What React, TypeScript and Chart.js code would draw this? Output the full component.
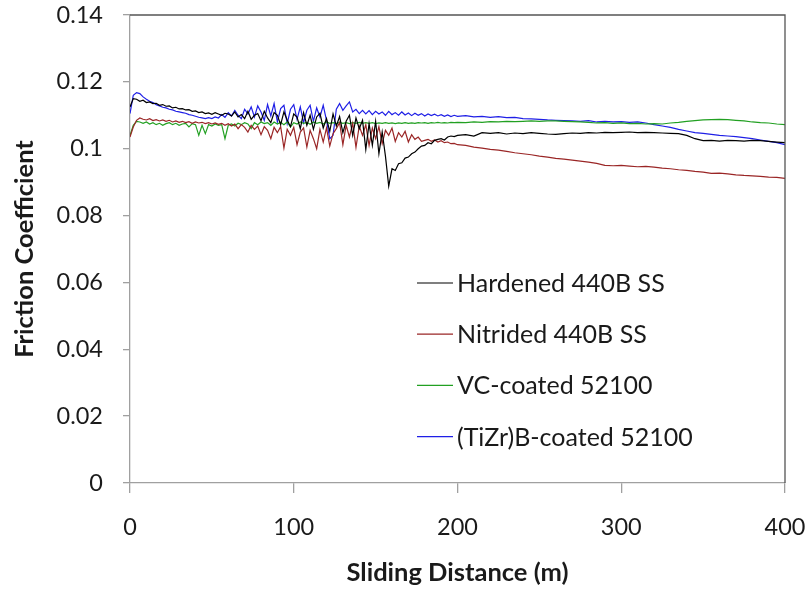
import React, { useEffect, useRef } from "react";
import { Chart, registerables } from "chart.js";

Chart.register(...registerables);

const distance = [
  0, 2, 4, 6, 8, 10, 12, 14, 16, 18, 20, 22, 24, 26, 28, 30, 32, 34, 36, 38,
  40, 42, 44, 46, 48, 50, 52, 54, 56, 58, 60, 62, 64, 66, 68, 70, 72, 74, 76, 78,
  80, 82, 84, 86, 88, 90, 92, 94, 96, 98, 100, 102, 104, 106, 108, 110, 112, 114, 116, 118,
  120, 122, 124, 126, 128, 130, 132, 134, 136, 138, 140, 142, 144, 146, 148, 150, 152, 154, 156, 158,
  160, 162, 164, 166, 168, 170, 172, 174, 176, 178, 180, 182, 184, 186, 188, 190, 192, 194, 196, 198,
  200, 205, 210, 215, 220, 225, 230, 235, 240, 245, 250, 255, 260, 265, 270, 275, 280, 285, 290, 295,
  300, 305, 310, 315, 320, 325, 330, 335, 340, 345, 350, 355, 360, 365, 370, 375, 380, 385, 390, 395, 400,
];

const hardened440B = [
  0.1125, 0.1150, 0.1148, 0.1142, 0.1145, 0.1138, 0.1140, 0.1135, 0.1136, 0.1130,
  0.1132, 0.1127, 0.1128, 0.1122, 0.1124, 0.1119, 0.1120, 0.1116, 0.1117, 0.1112,
  0.1113, 0.1108, 0.1110, 0.1105, 0.1107, 0.1103, 0.1108, 0.1104, 0.1100, 0.1106,
  0.1104, 0.1098, 0.1110, 0.1095, 0.1102, 0.1090, 0.1112, 0.1088, 0.1100, 0.1105,
  0.1084, 0.1112, 0.1092, 0.1078, 0.1108, 0.1100, 0.1072, 0.1110, 0.1086, 0.1066,
  0.1104, 0.1095, 0.1060, 0.1108, 0.1070, 0.1100, 0.1058, 0.1095, 0.1106, 0.1062,
  0.1090, 0.1052, 0.1104, 0.1068, 0.1096, 0.1048, 0.1082, 0.1100, 0.1040, 0.1092,
  0.1060, 0.1085, 0.0998, 0.1075, 0.1010, 0.1082, 0.0985, 0.1050, 0.0978, 0.0888,
  0.0940, 0.0935, 0.0955, 0.0958, 0.0972, 0.0975, 0.0985, 0.0990, 0.1000, 0.1008,
  0.1010, 0.1018, 0.1015, 0.1025, 0.1028, 0.1030, 0.1026, 0.1035, 0.1038, 0.1036,
  0.1040, 0.1042, 0.1038, 0.1048, 0.1046, 0.1048, 0.1044, 0.1047, 0.1045, 0.1048,
  0.1046, 0.1044, 0.1043, 0.1045, 0.1047, 0.1046, 0.1048, 0.1047, 0.1049, 0.1048,
  0.1049, 0.1050, 0.1048, 0.1049, 0.1048, 0.1047, 0.1046, 0.1045, 0.1040, 0.1030,
  0.1024, 0.1025, 0.1023, 0.1025, 0.1024, 0.1023, 0.1025, 0.1024, 0.1022, 0.1020, 0.1018,
];

const nitrided440B = [
  0.1035, 0.1065, 0.1085, 0.1092, 0.1088, 0.1086, 0.1090, 0.1084, 0.1087, 0.1083,
  0.1086, 0.1082, 0.1085, 0.1080, 0.1083, 0.1079, 0.1082, 0.1078, 0.1081, 0.1076,
  0.1080, 0.1077, 0.1079, 0.1075, 0.1078, 0.1074, 0.1077, 0.1073, 0.1076, 0.1070,
  0.1075, 0.1068, 0.1074, 0.1060, 0.1072, 0.1064, 0.1050, 0.1070, 0.1058, 0.1068,
  0.1042, 0.1066, 0.1055, 0.1030, 0.1064, 0.1048, 0.1066, 0.1002, 0.1058, 0.1040,
  0.1064, 0.1012, 0.1050, 0.1062, 0.1005, 0.1055, 0.1030, 0.1000, 0.1058, 0.1020,
  0.1062, 0.1008, 0.1045, 0.1060, 0.1078, 0.1012, 0.1070, 0.1035, 0.1076, 0.1004,
  0.1068, 0.1040, 0.1072, 0.1010, 0.1062, 0.1030, 0.1066, 0.1015, 0.1055, 0.1040,
  0.1062, 0.1022, 0.1048, 0.1035, 0.1052, 0.1020, 0.1042, 0.1028, 0.1035, 0.1022,
  0.1025, 0.1028, 0.1022, 0.1026, 0.1020, 0.1024, 0.1018, 0.1020, 0.1015, 0.1016,
  0.1012, 0.1010, 0.1005, 0.1002, 0.0998, 0.0996, 0.0992, 0.0988, 0.0985, 0.0982,
  0.0978, 0.0975, 0.0971, 0.0969, 0.0966, 0.0963, 0.0960, 0.0956, 0.0950, 0.0949,
  0.0950, 0.0948, 0.0946, 0.0947, 0.0945, 0.0942, 0.0940, 0.0937, 0.0935, 0.0932,
  0.0930, 0.0926, 0.0927, 0.0925, 0.0922, 0.0920, 0.0919, 0.0917, 0.0915, 0.0914, 0.0911,
];

const vcCoated52100 = [
  0.1040, 0.1070, 0.1082, 0.1080, 0.1076, 0.1080, 0.1074, 0.1078, 0.1072, 0.1076,
  0.1070, 0.1075, 0.1078, 0.1072, 0.1076, 0.1070, 0.1074, 0.1076, 0.1065, 0.1075,
  0.1072, 0.1040, 0.1070, 0.1045, 0.1072, 0.1068, 0.1074, 0.1070, 0.1072, 0.1030,
  0.1070, 0.1074, 0.1068, 0.1076, 0.1072, 0.1078, 0.1074, 0.1060, 0.1078, 0.1072,
  0.1080, 0.1075, 0.1078, 0.1070, 0.1080, 0.1074, 0.1079, 0.1072, 0.1080, 0.1065,
  0.1078, 0.1074, 0.1080, 0.1076, 0.1079, 0.1073, 0.1080, 0.1076, 0.1079, 0.1074,
  0.1080, 0.1076, 0.1078, 0.1075, 0.1079, 0.1076, 0.1078, 0.1075, 0.1078, 0.1076,
  0.1079, 0.1076, 0.1078, 0.1076, 0.1078, 0.1075, 0.1077, 0.1076, 0.1078, 0.1076,
  0.1077, 0.1075, 0.1077, 0.1076, 0.1078, 0.1076, 0.1077, 0.1076, 0.1078, 0.1077,
  0.1078, 0.1076, 0.1078, 0.1077, 0.1079, 0.1077, 0.1078, 0.1077, 0.1079, 0.1078,
  0.1079, 0.1078, 0.1080, 0.1079, 0.1081, 0.1080, 0.1082, 0.1081, 0.1082, 0.1083,
  0.1082, 0.1083, 0.1083, 0.1082, 0.1081, 0.1080, 0.1079, 0.1077, 0.1078, 0.1076,
  0.1077, 0.1075, 0.1076, 0.1074, 0.1075, 0.1074, 0.1077, 0.1079, 0.1082, 0.1084,
  0.1086, 0.1087, 0.1088, 0.1087, 0.1085, 0.1083, 0.1080, 0.1078, 0.1077, 0.1074, 0.1072,
];

const tizrbCoated52100 = [
  0.1105, 0.1160, 0.1168, 0.1165, 0.1155, 0.1148, 0.1142, 0.1138, 0.1132, 0.1128,
  0.1124, 0.1122, 0.1118, 0.1116, 0.1112, 0.1110, 0.1108, 0.1106, 0.1102, 0.1100,
  0.1097, 0.1094, 0.1092, 0.1090, 0.1093, 0.1090, 0.1095, 0.1092, 0.1102, 0.1094,
  0.1108, 0.1098, 0.1115, 0.1100, 0.1090, 0.1118, 0.1104, 0.1125, 0.1095, 0.1128,
  0.1110, 0.1085, 0.1132, 0.1098, 0.1135, 0.1080, 0.1120, 0.1130, 0.1075, 0.1118,
  0.1132, 0.1088, 0.1125, 0.1078, 0.1115, 0.1130, 0.1082, 0.1122, 0.1095, 0.1130,
  0.1085, 0.1030, 0.1040, 0.1118, 0.1135, 0.1115, 0.1128, 0.1140, 0.1110, 0.1118,
  0.1105, 0.1115, 0.1104, 0.1114, 0.1102, 0.1112, 0.1104, 0.1110, 0.1100, 0.1112,
  0.1102, 0.1108, 0.1100, 0.1110, 0.1101, 0.1107, 0.1099, 0.1106, 0.1100, 0.1105,
  0.1098, 0.1104, 0.1099, 0.1103, 0.1098, 0.1102, 0.1097, 0.1101, 0.1096, 0.1100,
  0.1097, 0.1099, 0.1095, 0.1097, 0.1094, 0.1096, 0.1093, 0.1094, 0.1090, 0.1089,
  0.1088, 0.1086, 0.1085, 0.1084, 0.1083, 0.1082, 0.1084, 0.1080, 0.1082, 0.1080,
  0.1081, 0.1079, 0.1080, 0.1077, 0.1072, 0.1068, 0.1064, 0.1058, 0.1053, 0.1048,
  0.1046, 0.1043, 0.1040, 0.1038, 0.1036, 0.1033, 0.1030, 0.1026, 0.1022, 0.1018, 0.1012,
];

const seriesNames = [
  "Hardened 440B SS",
  "Nitrided 440B SS",
  "VC-coated 52100",
  "(TiZr)B-coated 52100",
];
const seriesColors = ["#000000", "#9a2626", "#22a022", "#1f1fe6"];

const yTicks = [0, 0.02, 0.04, 0.06, 0.08, 0.1, 0.12, 0.14];
const xTicks = [0, 100, 200, 300, 400];

const FONT = "Lato, 'Open Sans', sans-serif";

export default function App() {
  const ref = useRef<HTMLCanvasElement | null>(null);

  useEffect(() => {
    const canvas = ref.current;
    if (!canvas) return;
    const all = [hardened440B, nitrided440B, vcCoated52100, tizrbCoated52100];
    const datasets = all.map((arr, i) => ({
      label: seriesNames[i],
      data: arr.map((y, j) => ({ x: distance[j], y })),
      borderColor: seriesColors[i],
      backgroundColor: seriesColors[i],
      borderWidth: 1.2,
      pointRadius: 0,
      tension: 0,
      fill: false,
    }));

    const borderPlugin = {
      id: "plotBorder",
      afterDatasetsDraw(chart: any) {
        const { ctx, chartArea } = chart;
        ctx.save();
        ctx.strokeStyle = "#555555";
        ctx.lineWidth = 1.3;
        ctx.beginPath();
        ctx.moveTo(chartArea.left, chartArea.top);
        ctx.lineTo(chartArea.right, chartArea.top);
        ctx.lineTo(chartArea.right, chartArea.bottom);
        ctx.stroke();
        ctx.restore();
      },
    };

    const legendPlugin = {
      id: "insideLegend",
      afterDraw(chart: any) {
        const { ctx, chartArea } = chart;
        ctx.save();
        ctx.font = `25px ${FONT}`;
        ctx.textBaseline = "middle";
        ctx.textAlign = "left";
        const x0 = chartArea.left + 287;
        const y0 = chartArea.top + 268;
        seriesNames.forEach((name, i) => {
          const y = y0 + i * 51.2;
          ctx.strokeStyle = seriesColors[i];
          ctx.lineWidth = 1.2;
          ctx.beginPath();
          ctx.moveTo(x0, y);
          ctx.lineTo(x0 + 36, y);
          ctx.stroke();
          ctx.fillStyle = "#1a1a1a";
          ctx.fillText(name, x0 + 40, y + 1);
        });
        ctx.restore();
      },
    };

    const chart = new Chart(canvas, {
      type: "line",
      data: { datasets },
      options: {
        animation: false,
        responsive: false,
        maintainAspectRatio: false,
        layout: { padding: { top: 15, right: 25, left: 0, bottom: 0 } },
        plugins: {
          legend: { display: false },
          tooltip: { enabled: false },
        },
        scales: {
          x: {
            type: "linear",
            min: 0,
            max: 400,
            afterBuildTicks: (scale: any) => {
              scale.ticks = xTicks.map((v) => ({ value: v }));
            },
            afterFit: (scale: any) => {
              scale.height = 108;
              scale.paddingLeft = 0;
              scale.paddingRight = 0;
            },
            ticks: {
              color: "#1a1a1a",
              font: { family: FONT, size: 23.5 },
              padding: 20,
              maxRotation: 0,
              callback: (v: any) => String(v),
            },
            grid: {
              drawOnChartArea: false,
              drawTicks: true,
              tickLength: 10,
              color: "#a0a0a0",
              lineWidth: 1.3,
            },
            border: { display: true, color: "#a0a0a0", width: 1.3 },
            title: {
              display: true,
              text: "Sliding Distance (m)",
              color: "#1a1a1a",
              font: { family: FONT, size: 25.5, weight: "bold" },
              padding: { top: 0, bottom: 3 },
            },
          },
          y: {
            type: "linear",
            min: 0,
            max: 0.14,
            afterBuildTicks: (scale: any) => {
              scale.ticks = yTicks.map((v) => ({ value: v }));
            },
            afterFit: (scale: any) => {
              scale.width = 130;
              scale.paddingTop = 0;
              scale.paddingBottom = 0;
            },
            ticks: {
              color: "#1a1a1a",
              font: { family: FONT, size: 23.5 },
              padding: 20,
              callback: (v: any) => String(Number(Number(v).toFixed(2))),
            },
            grid: {
              drawOnChartArea: false,
              drawTicks: true,
              tickLength: 7,
              color: "#a0a0a0",
              lineWidth: 1.3,
            },
            border: { display: true, color: "#a0a0a0", width: 1.3 },
            title: {
              display: true,
              text: "Friction Coefficient",
              color: "#1a1a1a",
              font: { family: FONT, size: 25.5, weight: "bold" },
              padding: { top: 9, bottom: 0 },
            },
          },
        },
      },
      plugins: [borderPlugin, legendPlugin],
    });

    return () => chart.destroy();
  }, []);

  return (
    <div style={{ position: "fixed", left: 0, top: 0, width: 810, height: 591, background: "#ffffff" }}>
      <canvas ref={ref} width={810} height={591} style={{ display: "block" }} />
    </div>
  );
}
